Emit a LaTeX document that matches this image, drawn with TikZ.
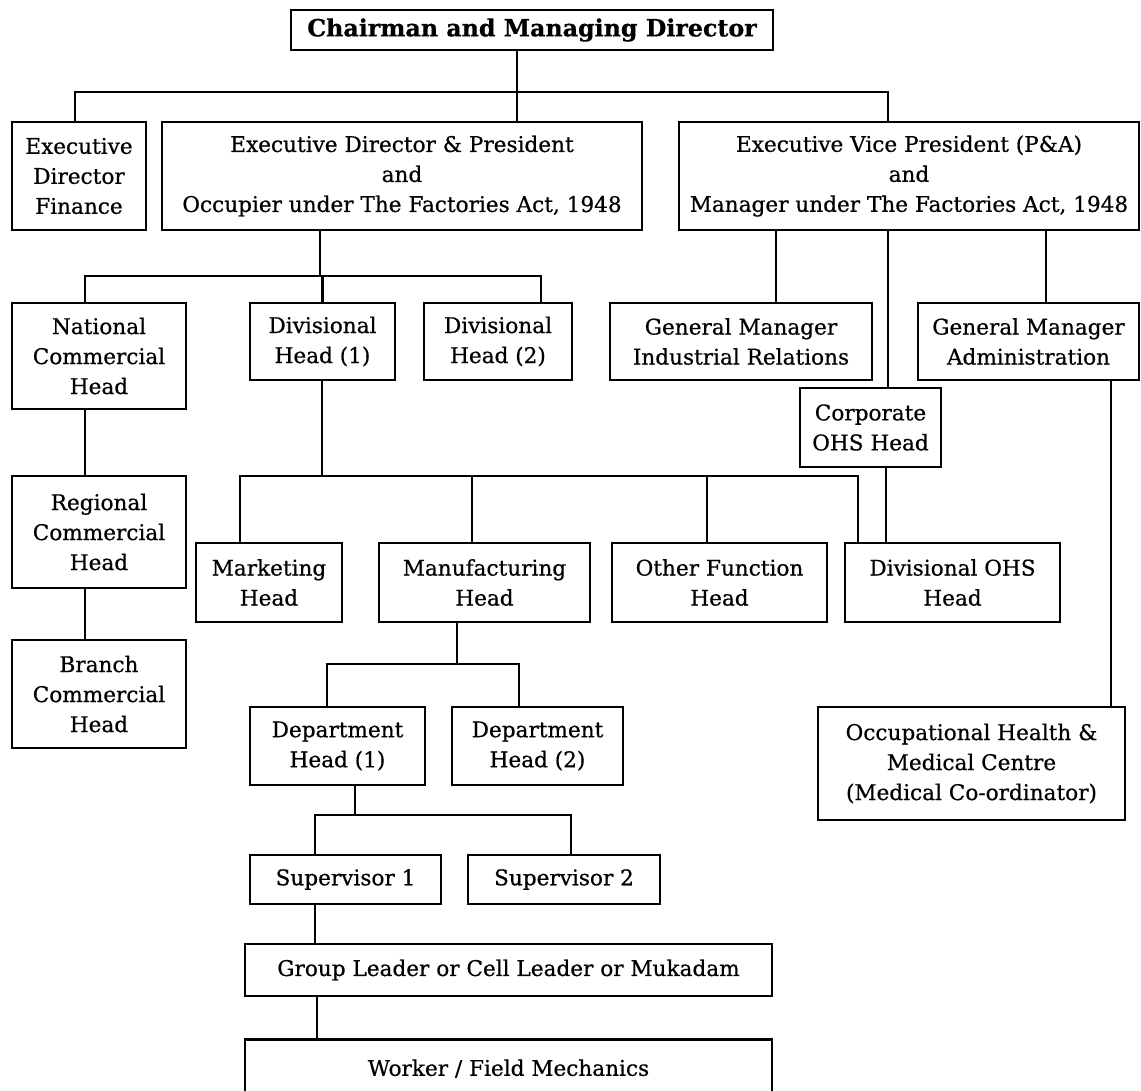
\documentclass[tikz,border=0pt]{standalone}
\usepackage{fontspec}
\setmainfont{DejaVu Serif}[FakeBold=0.6]
\newfontfamily\chairfont{DejaVu Serif}[FakeBold=0.8]
\begin{document}
\begin{tikzpicture}[x=0.75pt,y=-0.75pt,
  box/.style={draw=black,line width=1.9pt,inner sep=0pt,align=center,
    font=\fontsize{16.2}{22.5}\selectfont},
  conn/.style={line width=1.9pt,line join=miter}]
\clip (0,0) rectangle (1141,1091);
\fill[white] (0,0) rectangle (1141,1091);
% nodes
\node[box,minimum width=361.5pt,minimum height=30pt,font=\fontsize{17.8}{20}\selectfont\bfseries] (chair) at (532,30) {Chairman and Managing Director};
\node[box,minimum width=100.5pt,minimum height=81pt] (edf) at (79,176) {Executive\\Director\\Finance};
\node[box,minimum width=360pt,minimum height=81pt] (edp) at (402,176) {Executive Director \& President\\and\\Occupier under The Factories Act, 1948};
\node[box,minimum width=345pt,minimum height=81pt] (evp) at (909,176) {Executive Vice President (P\&A)\\and\\Manager under The Factories Act, 1948};
\node[box,minimum width=130.5pt,minimum height=79.5pt] (nch) at (99,356) {National\\Commercial\\Head};
\node[box,minimum width=108.75pt,minimum height=57.75pt] (dh1) at (322.5,341.5) {Divisional\\Head (1)};
\node[box,minimum width=111pt,minimum height=57.75pt] (dh2) at (498,341.5) {Divisional\\Head (2)};
\node[box,minimum width=196.5pt,minimum height=57.75pt] (gmir) at (741,341.5) {General Manager\\Industrial Relations};
\node[box,minimum width=165.75pt,minimum height=57.75pt] (gmad) at (1028.5,341.5) {General Manager\\Administration};
\node[box,minimum width=105.75pt,minimum height=59.25pt] (cohs) at (870.5,427.5) {Corporate\\OHS Head};
\node[box,minimum width=130.5pt,minimum height=84pt] (rch) at (99,532) {Regional\\Commercial\\Head};
\node[box,minimum width=130.5pt,minimum height=81pt] (bch) at (99,694) {Branch\\Commercial\\Head};
\node[box,minimum width=109.5pt,minimum height=59.25pt] (mkt) at (269,582.5) {Marketing\\Head};
\node[box,minimum width=158.25pt,minimum height=59.25pt] (mfg) at (484.5,582.5) {Manufacturing\\Head};
\node[box,minimum width=161.25pt,minimum height=59.25pt] (ofh) at (719.5,582.5) {Other Function\\Head};
\node[box,minimum width=161.25pt,minimum height=59.25pt] (dohs) at (952.5,582.5) {Divisional OHS\\Head};
\node[box,minimum width=230.25pt,minimum height=84.75pt] (ohmc) at (971.5,763.5) {Occupational Health \&\\Medical Centre\\(Medical Co-ordinator)};
\node[box,minimum width=131.25pt,minimum height=58.5pt] (dep1) at (337.5,746) {Department\\Head (1)};
\node[box,minimum width=128.25pt,minimum height=58.5pt] (dep2) at (537.5,746) {Department\\Head (2)};
\node[box,minimum width=143.25pt,minimum height=36.75pt] (sup1) at (345.5,879.5) {Supervisor 1};
\node[box,minimum width=144pt,minimum height=36.75pt] (sup2) at (564,879.5) {Supervisor 2};
\node[box,minimum width=395.25pt,minimum height=39pt] (grp) at (508.5,970) {Group Leader or Cell Leader or Mukadam};
\node[box,minimum width=395.25pt,minimum height=46.5pt,anchor=north] (wrk) at (508.5,1038) {\raisebox{4pt}{Worker / Field Mechanics}};
% connectors
\coordinate (t0) at (517,92);
\coordinate (t1) at (75,92);
\coordinate (t2) at (888,92);
\draw[conn] (t0 |- chair.south) -- (t0 |- edp.north);
\draw[conn] (t1 |- edf.north) -- (t1) -- (t2) -- (t2 |- evp.north);
\coordinate (u0) at (320,276);
\coordinate (u1) at (85,276);
\coordinate (u2) at (541,276);
\draw[conn] (u0 |- edp.south) -- (u0);
\draw[conn] (u1 |- nch.north) -- (u1) -- (u2) -- (u2 |- dh2.north);
\draw[conn] (dh1.north) -- (dh1.north |- u1);
\draw[conn] (u1 |- nch.south) -- (u1 |- rch.north);
\draw[conn] (u1 |- rch.south) -- (u1 |- bch.north);
\coordinate (v1) at (776,0);
\coordinate (v2) at (888,0);
\coordinate (v3) at (1046,0);
\draw[conn] (v1 |- evp.south) -- (v1 |- gmir.north);
\draw[conn] (v2 |- evp.south) -- (v2 |- cohs.north);
\draw[conn] (v3 |- evp.south) -- (v3 |- gmad.north);
\coordinate (w0) at (322,476);
\coordinate (w1) at (240,476);
\coordinate (w2) at (472,476);
\coordinate (w3) at (707,476);
\coordinate (w4) at (858,476);
\draw[conn] (w0 |- dh1.south) -- (w0);
\draw[conn] (w1 |- mkt.north) -- (w1) -- (w4) -- (w4 |- dohs.north);
\draw[conn] (w2) -- (w2 |- mfg.north);
\draw[conn] (w3) -- (w3 |- ofh.north);
\coordinate (c1) at (886,0);
\draw[conn] (c1 |- cohs.south) -- (c1 |- dohs.north);
\coordinate (g1) at (1111,0);
\draw[conn] (g1 |- gmad.south) -- (g1 |- ohmc.north);
\coordinate (x0) at (457,664);
\coordinate (x1) at (327,664);
\coordinate (x2) at (519,664);
\draw[conn] (x0 |- mfg.south) -- (x0);
\draw[conn] (x1 |- dep1.north) -- (x1) -- (x2) -- (x2 |- dep2.north);
\coordinate (y0) at (355,815);
\coordinate (y1) at (315,815);
\coordinate (y2) at (571,815);
\draw[conn] (y0 |- dep1.south) -- (y0);
\draw[conn] (y1 |- sup1.north) -- (y1) -- (y2) -- (y2 |- sup2.north);
\coordinate (z1) at (315,0);
\coordinate (z2) at (317,0);
\draw[conn] (z1 |- sup1.south) -- (z1 |- grp.north);
\draw[conn] (z2 |- grp.south) -- (z2 |- wrk.north);
\end{tikzpicture}
\end{document}
